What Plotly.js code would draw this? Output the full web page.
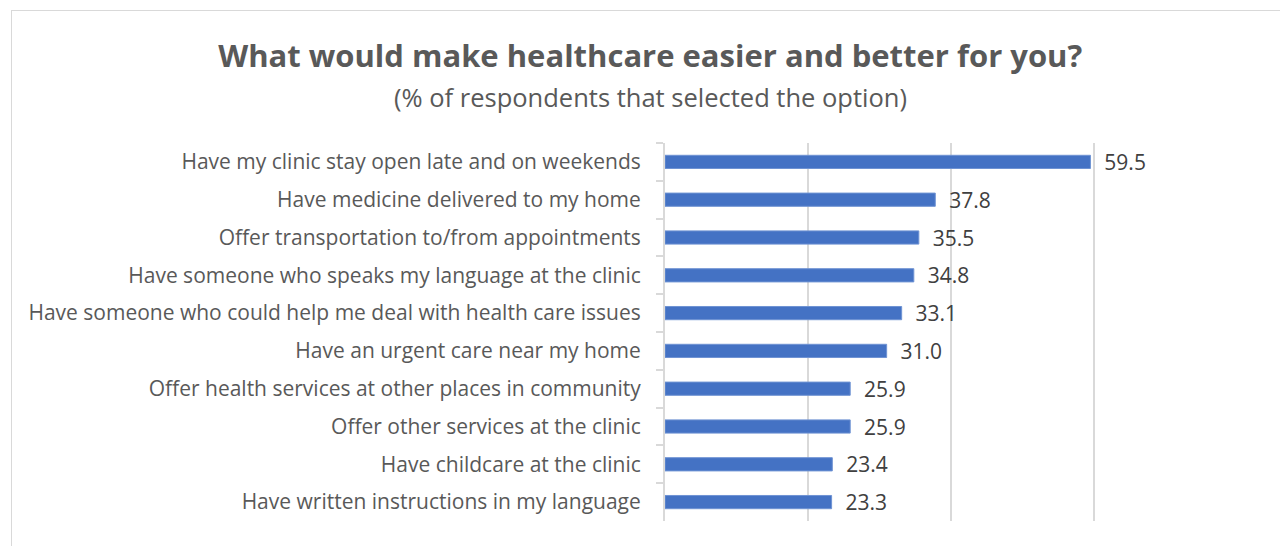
<!DOCTYPE html>
<html>
<head>
<meta charset="utf-8">
<script src="https://cdn.plot.ly/plotly-3.0.1.min.js"></script>
<style>
html,body{margin:0;padding:0;background:#fff;overflow:hidden;}
#chart{width:1280px;height:546px;}
#frame{position:absolute;left:11px;top:10px;width:1300px;height:600px;border:1px solid #d9d9d9;pointer-events:none;}
</style>
</head>
<body>
<div id="chart"></div>
<div id="frame"></div>
<script>
const categories = [
  "Have my clinic stay open late and on weekends",
  "Have medicine delivered to my home",
  "Offer transportation to/from appointments",
  "Have someone who speaks my language at the clinic",
  "Have someone who could help me deal with health care issues",
  "Have an urgent care near my home",
  "Offer health services at other places in community",
  "Offer other services at the clinic",
  "Have childcare at the clinic",
  "Have written instructions in my language"
];
const values = [59.5, 37.8, 35.5, 34.8, 33.1, 31.0, 25.9, 25.9, 23.4, 23.3];

const font = "Open Sans, Noto Sans, sans-serif";

const trace = {
  type: "bar",
  orientation: "h",
  x: values,
  y: categories,
  marker: {color: "#4472C4", line: {color: "#6f93d3", width: 1}},
  text: values.map(v => v.toFixed(1)),
  texttemplate: "  %{text}",
  textposition: "outside",
  constraintext: "none",
  cliponaxis: false,
  textfont: {family: font, size: 21, color: "#404040"},
  hoverinfo: "none"
};

const layout = {
  width: 1280,
  height: 546,
  margin: {l: 665, r: 43, t: 143, b: 25},
  paper_bgcolor: "#ffffff",
  plot_bgcolor: "#ffffff",
  bargap: 0.65,
  showlegend: false,
  title: {
    text: "<b>What would make healthcare easier and better for you?</b>",
    font: {family: font, size: 31, color: "#595959"},
    x: 0.508, xanchor: "center",
    y: 0.898, yanchor: "middle", yref: "container"
  },
  annotations: [{
    text: "(% of respondents that selected the option)",
    xref: "paper", yref: "paper",
    x: -0.0245, xanchor: "center",
    y: 1.122, yanchor: "middle",
    showarrow: false,
    font: {family: font, size: 25.5, color: "#595959"}
  }],
  xaxis: {
    range: [0, 80],
    dtick: 20,
    tick0: 0,
    showgrid: true,
    gridcolor: "#d9d9d9",
    gridwidth: 2,
    zeroline: false,
    showticklabels: false,
    ticks: "",
    fixedrange: true
  },
  yaxis: {
    autorange: "reversed",
    showline: true,
    linecolor: "#d9d9d9",
    linewidth: 2,
    ticks: "outside",
    tickson: "boundaries",
    ticklen: 7,
    tickcolor: "#d9d9d9",
    tickwidth: 2,
    ticklabelstandoff: 18,
    tickfont: {family: font, size: 21, color: "#595959"},
    showgrid: false,
    zeroline: false,
    fixedrange: true
  }
};

Plotly.newPlot("chart", [trace], layout, {displayModeBar: false, staticPlot: true});
</script>
</body>
</html>
